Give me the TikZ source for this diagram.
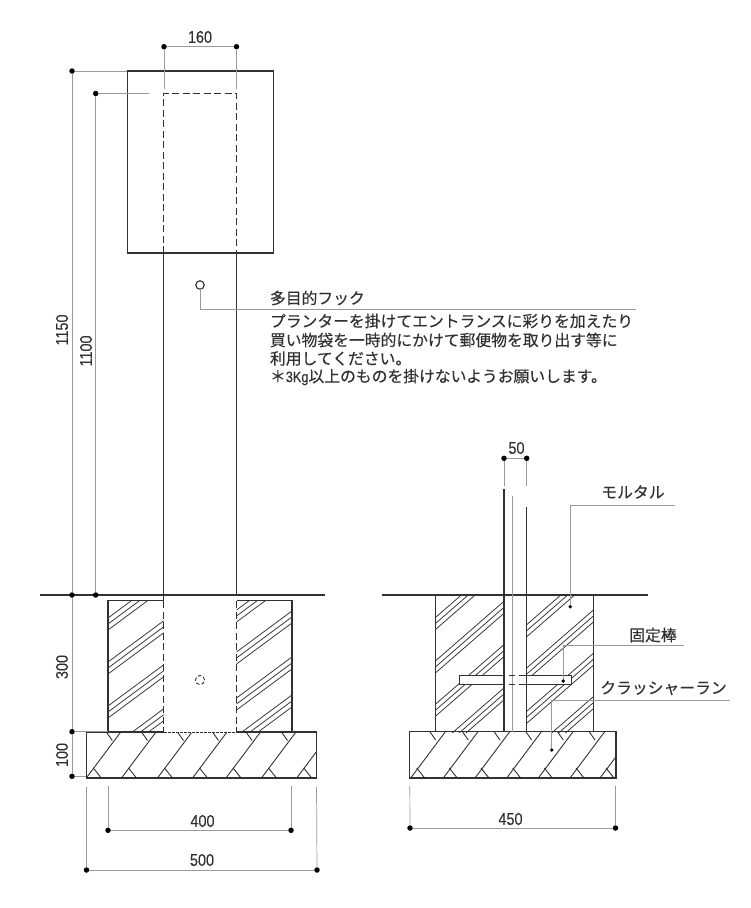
\documentclass[tikz,border=0pt]{standalone}
\usepackage{fontspec}
\setmainfont[FakeBold=0.25]{Noto Sans CJK JP}
\newfontfamily\numf[FakeStretch=0.85,FakeBold=0.2]{Liberation Sans}
\newcommand{\jp}{\fontsize{15.8}{18}\selectfont}
\newcommand{\dm}{\numf\fontsize{17}{18}\selectfont}
\definecolor{ink}{HTML}{333031}
\definecolor{grayl}{HTML}{9A9A9A}
\begin{document}
\begin{tikzpicture}[x=1pt,y=-1pt,outer sep=0pt,
  thick line/.style={draw=ink,line width=1.5pt},
  med line/.style={draw=ink,line width=1pt},
  hatch/.style={draw=ink,line width=0.75pt},
  lead/.style={draw=grayl,line width=0.95pt},
  dashline/.style={draw=ink,line width=1.3pt,dash pattern=on 7pt off 3.5pt},
  dotn/.style={circle,fill=black,inner sep=0pt,minimum size=5.5pt},
  smalldot/.style={circle,fill=black,inner sep=0pt,minimum size=3.8pt},
  dimtext/.style={font=\dm,text=ink,inner sep=0pt},
  jptext/.style={font=\jp,text=ink,inner sep=0pt,anchor=west}]
\useasboundingbox (0,0) rectangle (750,908);
\fill[white] (0,0) rectangle (750,908);

% ---- left elevation: hatching
\begin{scope}
\clip (108,600.7) rectangle (163.5,732);
\foreach \y in {618,624,630,662,668,674,706,712,718,750,756,762}
  \draw[hatch] (108,\y) -- ++(80,-59.2);
\end{scope}
\begin{scope}
\clip (236.5,600.7) rectangle (292,732);
\foreach \y in {610,616,622,652,658,664,698,704,710,736,742,748}
  \draw[hatch] (236.5,\y) -- ++(80,-59.2);
\end{scope}
\begin{scope}
\clip (86.3,732) rectangle (316,778);
\foreach \b in {86.3,121.5,157.5,192.5,226,261.5,296.7}{
  \draw[med line,line width=.9pt] (\b,778) -- ++(34.5,-46);
  \draw[med line,line width=.9pt] (\b+20,732) -- ++(6,8.5);
  \draw[med line,line width=.9pt] (\b+7,768) -- ++(8,10);
}
\end{scope}

% ---- left elevation: outlines
\node[draw=ink,line width=1.35pt,minimum width=146pt,minimum height=182pt,inner sep=0pt,anchor=north west] (box) at (127.3,71) {};
\draw[dashline] (163.5,253) -- (163.5,93.5) -- (236.5,93.5) -- (236.5,253);
\draw[thick line] (163.5,253) -- (163.5,600.7) -- (108,600.7) -- (108,732);
\draw[thick line] (236.5,253) -- (236.5,595);
\draw[thick line] (236.5,600.7) -- (292,600.7) -- (292,732);
\draw[dashline] (163.5,601) -- (163.5,732);
\draw[dashline] (236.5,601) -- (236.5,732);
\draw[thick line,line width=1.35pt] (40,595) -- (325,595);
\node[draw=ink,line width=1.5pt,minimum width=230pt,minimum height=46pt,inner sep=0pt,anchor=north west] (pad) at (86.3,732) {};
\draw[draw=white,line width=1.6pt] (164.3,732) -- (235.7,732);
\draw[draw=ink,line width=.9pt,dash pattern=on 3pt off 1pt] (163.5,732) -- (236.5,732);

% ---- hook
\node[circle,draw=ink,line width=1.1pt,minimum size=8.5pt,inner sep=0pt] (hook) at (200,285) {};
\coordinate (hookend) at (636,309);
\draw[lead] (hook.south) |- (hookend);
\draw[draw=ink,line width=.9pt,dash pattern=on 3.5pt off 2.2pt] (200,680) circle (4.6pt);

% ---- left dimensions
\node[dotn] (w1) at (164,46.7) {};
\node[dotn] (w2) at (236.5,46.7) {};
\coordinate (w1e) at (164,89);
\coordinate (w2e) at (236.5,89);
\draw[lead] (w1) -- (w2);
\draw[lead] (w1) -- (w1e);
\draw[lead] (w2) -- (w2e);
\node[dimtext] (t160) at (200,37) {160};

\node[dotn] (h1) at (72,71) {};
\node[dotn] (h2) at (72,595) {};
\node[dotn] (h3) at (72,731.7) {};
\node[dotn] (h4) at (72,776.3) {};
\draw[lead] (h1) -- (box.north west);
\draw[lead] (h1) -- (h2) -- (h3) -- (h4);
\coordinate (h3e) at (108,731.7);
\coordinate (h4e) at (86,776.3);
\draw[lead] (h3) -- (h3e);
\draw[lead] (h4) -- (h4e);
\node[dotn] (g1) at (95.7,93.5) {};
\node[dotn] (g2) at (95.7,595) {};
\coordinate (g1e) at (149,93.5);
\draw[lead] (g1) -- (g1e);
\draw[lead] (g1) -- (g2);
\node[dimtext,rotate=90] (t1150) at (62,330) {1150};
\node[dimtext,rotate=90] (t1100) at (86,351) {1100};
\node[dimtext,rotate=90] (t300) at (62,667) {300};
\node[dimtext,rotate=90] (t100) at (62,755) {100};

\node[dotn] (a1) at (108,830.3) {};
\node[dotn] (a2) at (291,830.3) {};
\coordinate (a1e) at (108,786);
\coordinate (a2e) at (291,786);
\draw[lead] (a1) -- (a2);
\draw[lead,line width=.7pt] (a1) -- (a1e);
\draw[lead,line width=.7pt] (a2) -- (a2e);
\node[dimtext] (t400) at (202.5,821) {400};
\node[dotn] (b1) at (86.5,870) {};
\node[dotn] (b2) at (317,870) {};
\coordinate (b1e) at (86.5,787);
\coordinate (b2e) at (316.5,787);
\draw[lead] (b1) -- (b2);
\draw[lead,line width=.7pt] (b1) -- (b1e);
\draw[lead,line width=.7pt] (b2) -- (b2e);
\node[dimtext] (t500) at (202,860) {500};

% ---- hook text
\node[jptext] (n0) at (270,298) {多目的フック};
\node[jptext] (n1) at (270,321) {プランターを掛けてエントランスに彩りを加えたり};
\node[jptext] (n2) at (270,340) {買い物袋を一時的にかけて郵便物を取り出す等に};
\node[jptext] (n3) at (270,358.5) {利用してください。};
\node[jptext] (n4) at (270,377) {＊{\numf\fontsize{15}{18}\selectfont 3Kg}以上のものを掛けないようお願いします。};

% ---- right section: hatching
\begin{scope}
\clip (435.7,595) rectangle (504,732);
\foreach \y in {617.3,623.3,629.3,660.7,666.7,672.7,704,710,716,747.3,753.3,759.3}
  \draw[hatch] (435.7,\y) -- ++(90,-78.3);
\end{scope}
\begin{scope}
\clip (526.7,595) rectangle (593.7,732);
\foreach \y in {624.7,630.7,636.7,668,674,680,711.3,717.3,723.3,754.7,760.7,766.7}
  \draw[hatch] (526.7,\y) -- ++(90,-78.3);
\end{scope}
\begin{scope}
\clip (409.5,731.5) rectangle (616,778);
\foreach \b in {410.7,443.3,475,506.7,538.3,570,600}{
  \draw[med line,line width=.9pt] (\b,778) -- ++(34.5,-46);
  \draw[med line,line width=.9pt] (\b+19,731.5) -- ++(6,8.5);
  \draw[med line,line width=.9pt] (\b+6,768) -- ++(8,10);
}
\end{scope}

% ---- right section: outlines
\draw[thick line,line width=1.35pt] (382,595) -- (648,595);
\draw[thick line] (435.7,595) -- (435.7,732);
\draw[thick line] (593.7,595) -- (593.7,732);
\node[draw=ink,line width=1.5pt,minimum width=206.5pt,minimum height=46.5pt,inner sep=0pt,anchor=north west] (pad2) at (409.5,731.5) {};
% fixing bar (white over the hatching)
\fill[white] (459.3,675.7) rectangle (571.7,684.3);
\draw[thick line,line width=1.2pt] (504,489.3) -- (504,731.5);
\draw[thick line,line width=1.2pt] (526.7,507.3) -- (526.7,731.5);
\draw[lead,line width=.7pt] (512.5,495.7) -- (512.5,731.5);
\draw[med line,line width=.9pt] (505,675.7) -- (459.3,675.7) -- (459.3,684.3) -- (505,684.3);
\draw[med line,line width=.9pt] (519,675.7) -- (571.7,675.7) -- (571.7,684.3) -- (519,684.3);
\draw[med line,line width=.9pt] (508.5,675.7) -- (515,675.7);
\draw[med line,line width=.9pt] (508.5,684.3) -- (515,684.3);

% ---- right section: dimensions and leaders
\node[dotn] (c1) at (504,458.3) {};
\node[dotn] (c2) at (526.7,458.3) {};
\coordinate (c1e) at (504,486);
\coordinate (c2e) at (526.7,486);
\draw[lead] (c1) -- (c2);
\draw[lead] (c1) -- (c1e);
\draw[lead] (c2) -- (c2e);
\node[dimtext] (t50) at (516.5,448) {50};
\node[dotn] (d1) at (410,828) {};
\node[dotn] (d2) at (615.5,828) {};
\coordinate (d1e) at (409.8,786);
\coordinate (d2e) at (615.5,786);
\draw[lead] (d1) -- (d2);
\draw[lead,line width=.7pt] (d1) -- (d1e);
\draw[lead,line width=.7pt] (d2) -- (d2e);
\node[dimtext] (t450) at (510.5,819) {450};

\node[smalldot] (l1) at (570.3,606.7) {};
\coordinate (l1e) at (675,505);
\draw[lead] (l1) |- (l1e);
\node[jptext,anchor=center] (mortar) at (633,492) {モルタル};
\node[smalldot] (l2) at (563.3,681) {};
\coordinate (l2e) at (684,645);
\draw[lead] (l2) |- (l2e);
\node[jptext,anchor=center] (rod) at (653,635) {固定棒};
\node[smalldot] (l3) at (551.7,750) {};
\coordinate (l3e) at (730,700.7);
\draw[lead] (l3) |- (l3e);
\node[jptext,anchor=center] (crusher) at (663.5,688) {クラッシャーラン};
\end{tikzpicture}
\end{document}
